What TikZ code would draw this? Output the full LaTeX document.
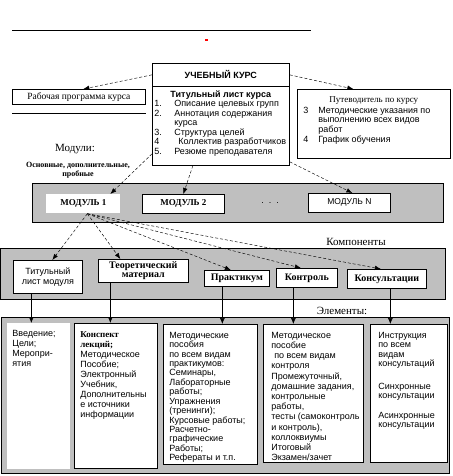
\documentclass[tikz,border=0pt]{standalone}
\usepackage{fontspec}
\setmainfont{Liberation Sans}
\newfontfamily\seriffont{Liberation Serif}
\usetikzlibrary{arrows.meta}
\newcommand\setsz[2]{\fontsize{#1}{#2}\selectfont}

\begin{document}
\begin{tikzpicture}[x=1pt,y=-1pt]
  \tikzset{
    box/.style={draw, fill=white, line width=0.7pt, inner sep=0pt, anchor=north west},
    band/.style={draw, fill=gray!50, line width=0.7pt},
    dasharrow/.style={dash pattern=on 3pt off 2pt, line width=0.45pt, -{Latex[length=6pt,width=4.5pt]}},
    downarrow/.style={line width=0.6pt, -{Latex[length=6pt,width=5pt]}},
    sectlabel/.style={font=\seriffont\setsz{11}{12}},
    modbox/.style={box, minimum width=82, minimum height=19},
    compbox/.style={box, align=center, font=\seriffont\bfseries\setsz{10}{9}},
  }
  \useasboundingbox (0,0) rectangle (452,476);

  \draw[line width=0.8pt] (12,30) -- (311,30);
  \fill[red] (205,39) rectangle (208,41);

  \node[box, minimum width=137, minimum height=23, font=\bfseries\setsz{9}{10}] (kurs) at (152,63) {УЧЕБНЫЙ КУРС};
  \node[box] (titul) at (152,86) {\parbox[c][79pt][t]{137pt}{\setsz{9}{9.5}\vspace*{4pt}%
    \centerline{\bfseries\strut Титульный лист курса}
    \begin{tabular}[t]{@{\hspace{2pt}}p{20pt}@{}l@{}}
      1. & Описание целевых групп\\
      2. & Аннотация содержания\\
         & курса\\
      3. & Структура целей\\
      4  & \hspace{4pt}Коллектив разработчиков\\
      5. & Резюме преподавателя
    \end{tabular}}};
  \draw[line width=1.6pt] (kurs.south west) -- (kurs.south east);

  \node[box, minimum width=133, minimum height=15, font=\seriffont\setsz{9.5}{10}] (rab) at (12,89) {Рабочая программа курса};
  \draw[line width=1.6pt] ([yshift=-9pt]rab.south west) -- ([yshift=-9pt]rab.south east);

  \node[box] (guide) at (297,89) {\parbox[c][69pt][t]{153pt}{\setsz{9}{9.8}\vspace*{6pt}%
    \centerline{\seriffont\strut Путеводитель по курсу}\vspace{1pt}
    \begin{tabular}[t]{@{\hspace{6pt}}p{15pt}@{}l@{}}
      3 & Методические указания по\\
        & выполнению всех видов\\
        & работ\\
      4 & График обучения
    \end{tabular}}};

  \draw[dasharrow] (kurs.west) -- ([xshift=4.5pt]rab.north);
  \draw[dasharrow] (kurs.east) -- ([xshift=-20.5pt]guide.north);

  \node[sectlabel] (moduli) at (75,149) {Модули:};
  \node[font=\seriffont\bfseries\setsz{8}{9}, align=center] (vidy) at (78,170) {Основные, дополнительные,\\пробные};

  \draw[band] (32,183) rectangle (443,222);
  \node[modbox, draw=none, minimum width=74, font=\seriffont\bfseries\setsz{9}{10}] (mod1) at (46,194) {МОДУЛЬ 1};
  \node[modbox, font=\seriffont\bfseries\setsz{9}{10}] (mod2) at (142,194) {МОДУЛЬ 2};
  \node[font=\setsz{9}{10}] (dots) at (270,203) {.\ \ .\ \ .};
  \node[modbox, font=\setsz{8.5}{10}] (modN) at (308,193) {МОДУЛЬ N};

  \draw[dasharrow] ([yshift=-28pt]titul.west) -- ([xshift=27pt]mod1.north);
  \draw[dasharrow] ([xshift=-28pt]titul.south) -- (mod2.north);
  \draw[dasharrow] ([yshift=-36pt]titul.east) -- ([xshift=3pt]modN.north);

  \node[sectlabel] (komp) at (356,242) {Компоненты};
  \draw[band] (0.5,248) rectangle (445,299);
  \node[box, align=center, minimum width=69, minimum height=33, font=\setsz{9}{10}] (tit) at (13,260) {Титульный\\лист модуля};
  \node[compbox, minimum width=90, minimum height=23] (theo) at (98,259) {Теоретический\\материал};
  \node[compbox, minimum width=65, minimum height=16] (prak) at (204,270) {Практикум};
  \node[compbox, minimum width=61, minimum height=19] (kontr) at (276,268) {Контроль};
  \node[compbox, minimum width=79, minimum height=19] (kons) at (347,269) {Консультации};

  \draw[dasharrow] ([xshift=4pt]mod1.south) -- ([xshift=4.5pt]tit.north);
  \draw[dasharrow] ([xshift=4pt]mod1.south) -- ([xshift=-23pt]theo.north);
  \draw[dasharrow] ([xshift=4pt]mod1.south) -- ([xshift=-6pt]prak.north);
  \draw[dasharrow] ([xshift=4pt]mod1.south) -- ([xshift=-6pt]kontr.north);
  \draw[dasharrow] ([xshift=4pt]mod1.south) -- ([xshift=-6pt]kons.north);

  \node[sectlabel] (elem) at (342,311) {Элементы:};
  \draw[band] (1,317) rectangle (449,473);

  \node[box, draw=none] (el1) at (7,323) {\parbox[c][146pt][t]{63pt}{\setsz{9}{10}\vspace*{6pt}%
    \begin{tabular}[t]{@{\hspace{5pt}}l@{}}
      Введение;\\ Цели;\\ Меропри-\\ ятия
    \end{tabular}}};
  \node[box] (el2) at (74,323) {\parbox[c][145pt][t]{83pt}{\setsz{9}{10}\vspace*{7pt}%
    \begin{tabular}[t]{@{\hspace{6pt}}l@{}}
      {\seriffont\bfseries Конспект}\\ {\seriffont\bfseries лекций;}\\
      Методическое\\ Пособие;\\ Электронный\\ Учебник,\\
      Дополнительны\\ е источники\\ информации
    \end{tabular}}};
  \node[box] (el3) at (163,324) {\parbox[c][140pt][t]{94pt}{\setsz{9}{9.4}\vspace*{7.4pt}%
    \begin{tabular}[t]{@{\hspace{6pt}}l@{}}
      Методические\\ пособия\\ по всем видам\\ практикумов:\\ Семинары,\\
      Лабораторные\\ работы;\\ Упражнения\\ (тренинги);\\ Курсовые работы;\\
      Расчетно-\\ графические\\ Работы;\\ Рефераты и т.п.
    \end{tabular}}};
  \node[box] (el4) at (263,324) {\parbox[c][138pt][t]{100pt}{\setsz{9}{10.2}\vspace*{6.9pt}%
    \begin{tabular}[t]{@{\hspace{8pt}}l@{}}
      Методическое\\ пособие\\ \hspace{3pt}по всем видам\\ контроля\\
      Промежуточный,\\ домашние задания,\\ контрольные\\ работы,\\
      тесты (самоконтроль\\ и контроль),\\ коллоквиумы\\ Итоговый\\ Экзамен/зачет
    \end{tabular}}};
  \node[box] (el5) at (370,324) {\parbox[c][138pt][t]{77pt}{\setsz{9}{9.4}\vspace*{7.4pt}%
    \begin{tabular}[t]{@{\hspace{8pt}}l@{}}
      Инструкция\\ по всем\\ видам\\ консультаций\\[13.4pt]
      Синхронные\\ консультации\\[10.2pt]
      Асинхронные\\ консультации
    \end{tabular}}};

  \draw[downarrow] ([xshift=-16.5pt]tit.south) -- ([xshift=-7.5pt]el1.north);
  \draw[downarrow] ([xshift=-33pt]theo.south) -- ([xshift=-5.5pt]el2.north);
  \draw[downarrow] ([xshift=-14.5pt]prak.south) -- ([xshift=12pt]el3.north);
  \draw[downarrow] ([xshift=-13.5pt]kontr.south) -- ([xshift=-20pt]el4.north);
  \draw[downarrow] ([xshift=3.5pt]kons.south) -- ([xshift=-18.5pt]el5.north);
\end{tikzpicture}
\end{document}
